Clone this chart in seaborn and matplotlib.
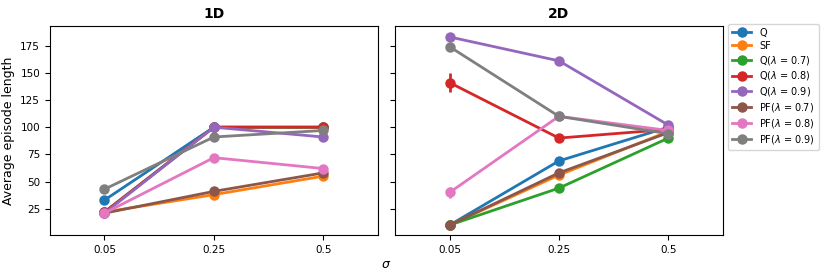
import matplotlib.pyplot as plt
import numpy as np
import pandas as pd
import seaborn as sns

sigmas = ["0.05", "0.25", "0.5"]
methods = ["Q", "SF", "Q($\\lambda$ = 0.7)", "Q($\\lambda$ = 0.8)", "Q($\\lambda$ = 0.9)",
           "PF($\\lambda$ = 0.7)", "PF($\\lambda$ = 0.8)", "PF($\\lambda$ = 0.9)"]

# mean episode length per method, per sigma
len_1d = {
    "Q": [33, 100, 100],
    "SF": [22, 38, 55],
    "Q($\\lambda$ = 0.7)": [22, 100, 100],
    "Q($\\lambda$ = 0.8)": [22, 100, 100],
    "Q($\\lambda$ = 0.9)": [21, 100, 91],
    "PF($\\lambda$ = 0.7)": [21, 41, 58],
    "PF($\\lambda$ = 0.8)": [21, 72, 62],
    "PF($\\lambda$ = 0.9)": [43, 91, 97],
}
len_2d = {
    "Q": [10, 69, 100],
    "SF": [10, 56, 96],
    "Q($\\lambda$ = 0.7)": [10, 44, 90],
    "Q($\\lambda$ = 0.8)": [141, 90, 98],
    "Q($\\lambda$ = 0.9)": [183, 161, 102],
    "PF($\\lambda$ = 0.7)": [10, 58, 95],
    "PF($\\lambda$ = 0.8)": [40, 110, 97],
    "PF($\\lambda$ = 0.9)": [174, 110, 94],
}
# visible error bars (half-width)
err_2d = {
    "Q($\\lambda$ = 0.8)": [9, 1, 1],
    "PF($\\lambda$ = 0.8)": [5, 1, 1],
}


def to_frame(table):
    rows = []
    for m in methods:
        for s, v in zip(sigmas, table[m]):
            rows.append({"sigma": s, "method": m, "length": v})
    return pd.DataFrame(rows)


palette = sns.color_palette("tab10", len(methods))

fig, axes = plt.subplots(1, 2, figsize=(8.3, 2.77), dpi=100, sharey=True)
left, right = 0.06, 0.871
fig.subplots_adjust(left=left, right=right, top=0.906, bottom=0.152, wspace=0.052)

for ax, table, title in zip(axes, [len_1d, len_2d], ["1D", "2D"]):
    df = to_frame(table)
    sns.pointplot(data=df, x="sigma", y="length", hue="method", hue_order=methods,
                  order=sigmas, palette=palette, errorbar=None, ax=ax,
                  markersize=6, linewidth=2)
    if title == "2D":
        for m, e in err_2d.items():
            c = palette[methods.index(m)]
            ax.errorbar(range(len(sigmas)), table[m], yerr=e, fmt="none",
                        ecolor=c, elinewidth=2, zorder=1)
    ax.set_xlim(-0.5, len(sigmas) - 0.5)
    ax.set_title(title, fontsize=10, fontweight="bold")
    ax.set_xlabel("")
    ax.tick_params(labelsize=7.5)
    ax.get_legend().remove()

axes[0].set_ylabel("Average episode length", fontsize=9)
axes[0].set_yticks([25, 50, 75, 100, 125, 150, 175])
axes[0].set_ylim(1, 193)
fig.supxlabel("$\\sigma$", fontsize=9, x=(left + right) / 2, y=0.02)

handles, labels = axes[0].get_legend_handles_labels()
axes[1].legend(handles, labels, loc="upper left", bbox_to_anchor=(1.01, 1.02),
               fontsize=7, handlelength=2, labelspacing=0.3, borderaxespad=0.2)

plt.savefig("out.png", dpi=100)
plt.close()
